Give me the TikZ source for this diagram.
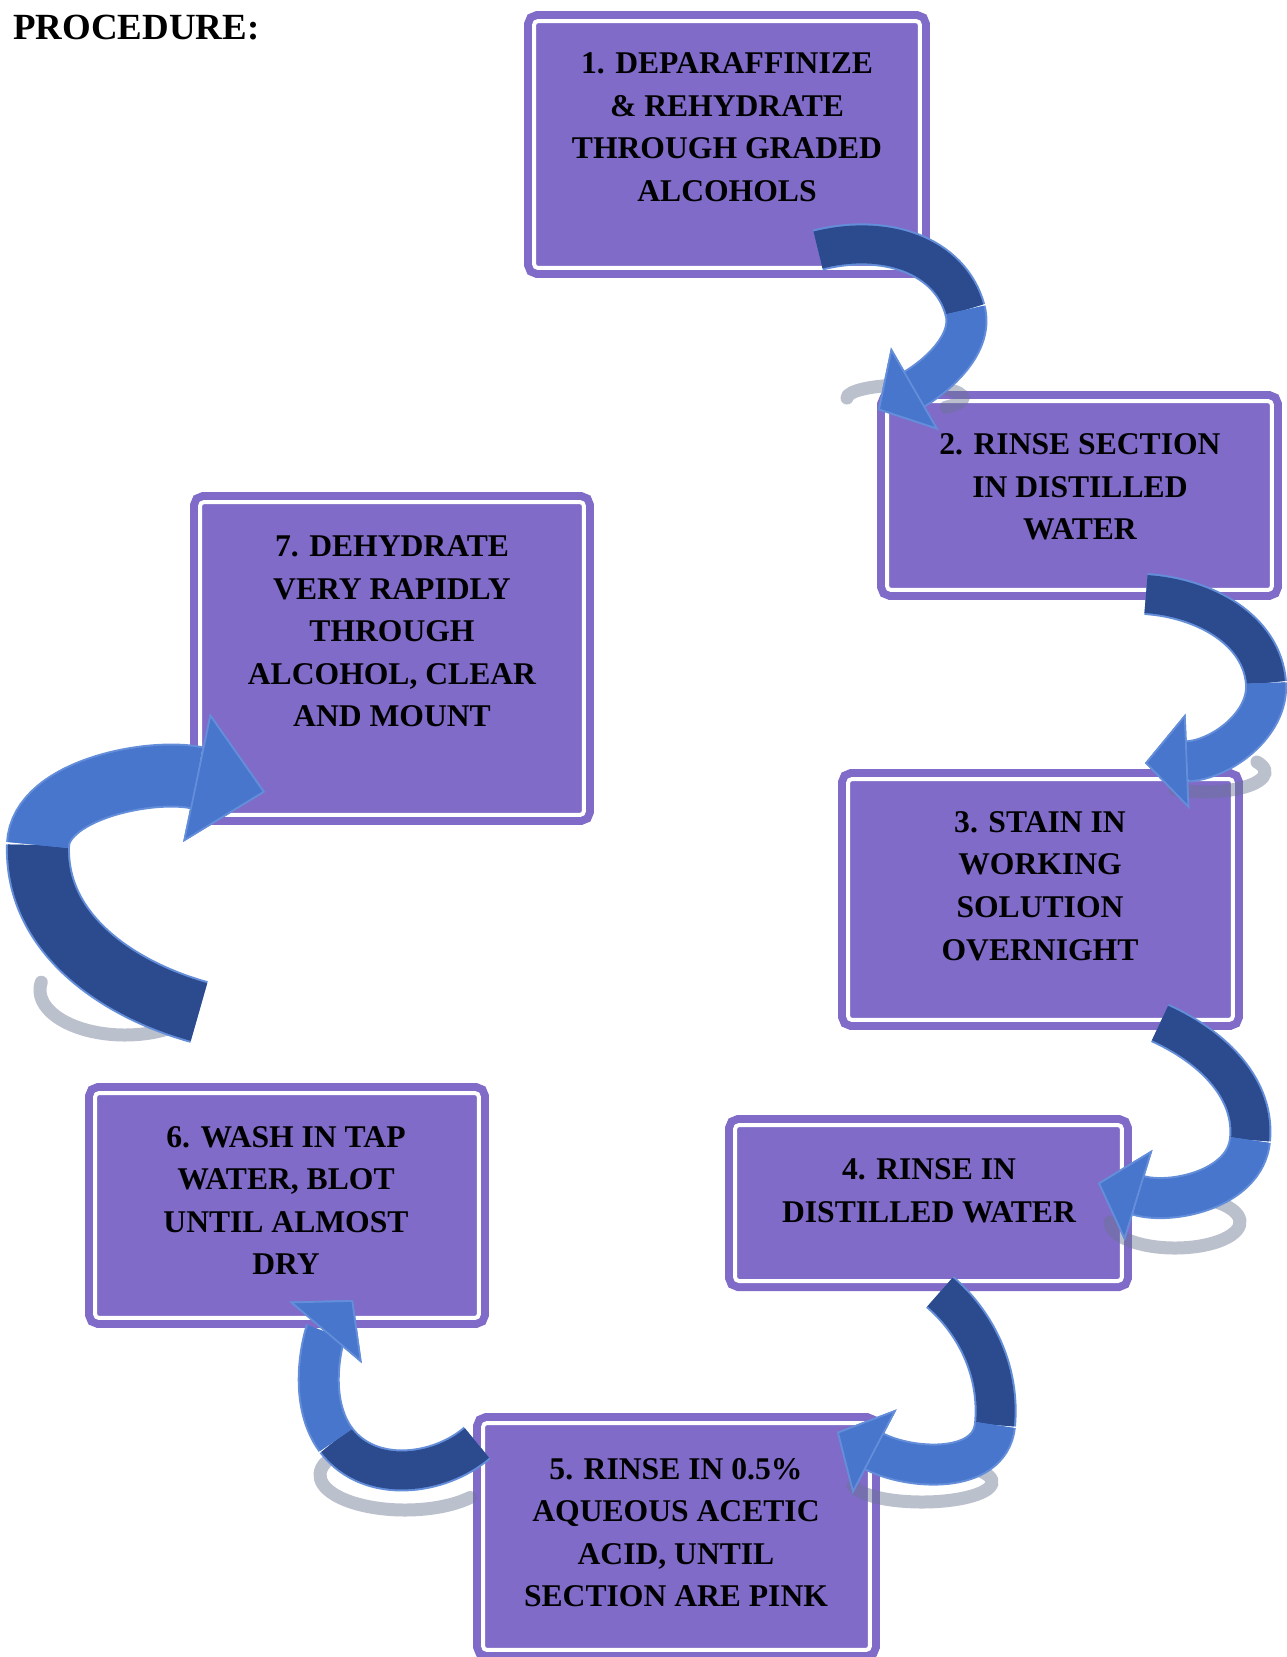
\documentclass[tikz,border=0pt]{standalone}
\usepackage{fontspec}
\setmainfont{Liberation Serif}
\usetikzlibrary{arrows.meta, positioning}
\definecolor{boxfill}{RGB}{128,107,200}
\definecolor{flowdark}{RGB}{44,75,142}
\definecolor{flowlight}{RGB}{72,118,204}
\definecolor{flowedge}{RGB}{100,142,218}
\definecolor{shadowgray}{RGB}{105,115,145}

\begin{document}
\begin{tikzpicture}[x=0.02cm, y=-0.02cm,
    stepbox/.style={rectangle, draw=boxfill, fill=boxfill, double=white,
                    double distance=0.08cm, line width=0.16cm,
                    rounded corners=0.08cm, inner sep=0pt},
    steptext/.style={align=center, inner sep=0pt,
                     font=\bfseries\fontsize{18}{24.2}\selectfont},
    heading/.style={inner sep=0pt, font=\bfseries\fontsize{21}{25}\selectfont},
    band/.style={line width=0.76cm, preaction={draw=flowedge, line width=0.84cm}},
    tail/.style={band, draw=flowdark},
    head/.style={band, draw=flowlight,
                 -{Triangle[width=1.9cm, length=0.85cm, line width=1pt 0, fill=flowlight, color=flowedge]}},
    bigband/.style={line width=1.2cm, preaction={draw=flowedge, line width=1.28cm}},
    bigtail/.style={bigband, draw=flowdark},
    bighead/.style={bigband, draw=flowlight,
                    -{Triangle[width=2.62cm, length=1.4cm, line width=1pt 0, fill=flowlight, color=flowedge]}},
    shadowarc/.style={draw=shadowgray, line width=0.26cm, opacity=0.45, line cap=round}
  ]
    \useasboundingbox (0,0) rectangle (1287,1657);

    \node[heading, anchor=base west] (title) at (13,39) {PROCEDURE:};

    \node[stepbox, minimum width=7.72cm, minimum height=4.94cm] (b1) at (727,144.5) {};
    \node[stepbox, minimum width=7.70cm, minimum height=3.78cm] (b2) at (1079.5,495.5) {};
    \node[stepbox, minimum width=7.70cm, minimum height=4.82cm] (b3) at (1040.5,899.5) {};
    \node[stepbox, minimum width=7.74cm, minimum height=3.12cm] (b4) at (928.5,1203) {};
    \node[stepbox, minimum width=7.74cm, minimum height=4.54cm] (b5) at (676.5,1536.5) {};
    \node[stepbox, minimum width=7.68cm, minimum height=4.50cm] (b6) at (287,1205.5) {};
    \node[stepbox, minimum width=7.68cm, minimum height=6.26cm] (b7) at (392,658.5) {};

    \node[steptext] (t1) at (727,127) {1. DEPARAFFINIZE\\\& REHYDRATE\\THROUGH GRADED\\ALCOHOLS};
    \node[steptext] (t2) at (1080,487) {2. RINSE SECTION\\IN DISTILLED\\WATER};
    \node[steptext] (t3) at (1040,886) {3. STAIN IN\\WORKING\\SOLUTION\\OVERNIGHT};
    \node[steptext] (t4) at (929,1191) {4. RINSE IN\\DISTILLED WATER};
    \node[steptext] (t5) at (676,1532.5) {5. RINSE IN 0.5\%\\AQUEOUS ACETIC\\ACID, UNTIL\\SECTION ARE PINK};
    \node[steptext] (t6) at (286,1200.5) {6. WASH IN TAP\\WATER, BLOT\\UNTIL ALMOST\\DRY};
    \node[steptext] (t7) at (392,631.5) {7. DEHYDRATE\\VERY RAPIDLY\\THROUGH\\ALCOHOL, CLEAR\\AND MOUNT};

    \draw[shadowarc] (905,398) ++(180:58 and 13) arc[start angle=180, end angle=405, x radius=58, y radius=13];
    \draw[shadowarc] (1205,772) ++(-30:60 and 20) arc[start angle=-30, end angle=120, x radius=60, y radius=20];
    \draw[shadowarc] (1175,1222) ++(-60:65 and 26) arc[start angle=-60, end angle=180, x radius=65, y radius=26];
    \draw[shadowarc] (922,1482) ++(-40:70 and 20) arc[start angle=-40, end angle=170, x radius=70, y radius=20];
    \draw[shadowarc] (405,1475) ++(40:85 and 35) arc[start angle=40, end angle=200, x radius=85, y radius=35];
    \draw[shadowarc] (125,990) ++(40:85 and 45) arc[start angle=40, end angle=190, x radius=85, y radius=45];

    \coordinate (a1) at (818,250);  \coordinate (a2) at (965,310);  \coordinate (a3) at (878,410);
    \coordinate (c1) at (1146,594); \coordinate (c2) at (1266,683); \coordinate (c3) at (1145,763);
    \coordinate (d1) at (1160,1023);\coordinate (d2) at (1250,1140);\coordinate (d3) at (1098,1183);
    \coordinate (e1) at (940,1292); \coordinate (e2) at (995,1425); \coordinate (e3) at (837,1432);
    \coordinate (f1) at (477,1443); \coordinate (f2) at (336,1440); \coordinate (f3) at (353,1300);
    \coordinate (g1) at (199,1012); \coordinate (g2) at (38,845);   \coordinate (g3) at (265,792);

    \draw[tail] (a1) .. controls (885,233) and (950,255) .. (a2);
    \draw[head] (a2) .. controls (975,347) and (930,380) .. (a3);
    \draw[tail] (c1) .. controls (1205,598) and (1262,630) .. (c2);
    \draw[head] (c2) .. controls (1269,725) and (1220,760) .. (c3);
    \draw[tail] (d1) .. controls (1215,1048) and (1255,1090) .. (d2);
    \draw[head] (d2) .. controls (1245,1190) and (1170,1205) .. (d3);
    \draw[tail] (e1) .. controls (975,1322) and (1000,1370) .. (e2);
    \draw[head] (e2) .. controls (990,1475) and (910,1470) .. (e3);
    \draw[tail] (f1) .. controls (440,1475) and (370,1485) .. (f2);
    \draw[head] (f2) .. controls (305,1398) and (325,1333) .. (f3);
    \draw[bigtail] (g1) .. controls (120,990) and (35,935) .. (g2);
    \draw[bighead] (g2) .. controls (40,790) and (150,768) .. (g3);
  \end{tikzpicture}
\end{document}
